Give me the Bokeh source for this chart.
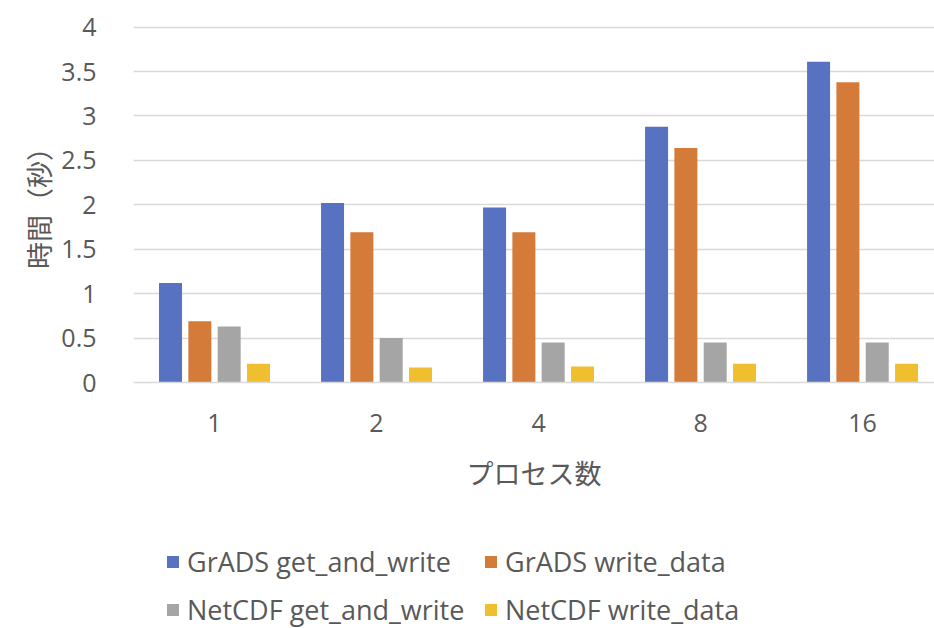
from bokeh.plotting import figure
from bokeh.layouts import column
from bokeh.models import Range1d, FixedTicker, Legend, LegendItem
from bokeh.embed import file_html
from bokeh.resources import INLINE

# ---- data ----
categories = ["1", "2", "4", "8", "16"]
grads_get_and_write = [1.12, 2.02, 1.97, 2.88, 3.61]
grads_write_data = [0.69, 1.69, 1.69, 2.64, 3.38]
netcdf_get_and_write = [0.63, 0.50, 0.45, 0.45, 0.45]
netcdf_write_data = [0.21, 0.17, 0.18, 0.21, 0.21]
series_names = ["GrADS get_and_write", "GrADS write_data",
                "NetCDF get_and_write", "NetCDF write_data"]
y_ticks = [0, 0.5, 1, 1.5, 2, 2.5, 3, 3.5, 4]
y_tick_labels = ["0", "0.5", "1", "1.5", "2", "2.5", "3", "3.5", "4"]
x_title = "プロセス数"
y_title = "時間（秒）"

# ---- styles ----
colors = ["#5672c0", "#d57b39", "#a5a5a5", "#f0bf30"]
TEXT = "#595959"
GRID = "#d9d9d9"
LATIN = "Open Sans"
CJK = "Noto Sans CJK JP"

series = [grads_get_and_write, grads_write_data, netcdf_get_and_write, netcdf_write_data]
centers = [i + 0.5 for i in range(len(categories))]
pitch = 0.181
bar_w = 0.142

p = figure(width=934, height=510, output_backend="svg", toolbar_location=None,
           x_range=Range1d(0, 4.944), y_range=Range1d(0, 4.075),
           min_border_left=133, min_border_right=0, min_border_top=20,
           min_border_bottom=128, outline_line_color=None)
p.background_fill_color = "white"

for k, (vals, col) in enumerate(zip(series, colors)):
    off = (k - 1.5) * pitch
    p.vbar(x=[c + off for c in centers], top=vals, bottom=0, width=bar_w,
           fill_color=col, line_color=None)

# axes
p.xaxis.ticker = FixedTicker(ticks=centers)
p.xaxis.major_label_overrides = {c: lab for c, lab in zip(centers, categories)}
p.xaxis.major_tick_line_color = None
p.xaxis.minor_tick_line_color = None
p.xaxis.axis_line_color = GRID
p.xaxis.axis_line_width = 1.5
p.xaxis.major_label_text_font = LATIN
p.xaxis.major_label_text_font_size = "25px"
p.xaxis.major_label_text_color = TEXT
p.xaxis.major_label_standoff = 25
p.xaxis.axis_label = x_title
p.xaxis.axis_label_text_font = CJK
p.xaxis.axis_label_text_font_size = "27px"
p.xaxis.axis_label_text_font_style = "normal"
p.xaxis.axis_label_text_color = TEXT
p.xaxis.axis_label_standoff = 18

p.yaxis.ticker = FixedTicker(ticks=y_ticks)
p.yaxis.major_label_overrides = {t: lab for t, lab in zip(y_ticks, y_tick_labels)}
p.yaxis.major_tick_line_color = None
p.yaxis.minor_tick_line_color = None
p.yaxis.axis_line_color = None
p.yaxis.major_label_text_font = LATIN
p.yaxis.major_label_text_font_size = "25px"
p.yaxis.major_label_text_color = TEXT
p.yaxis.major_label_standoff = 31
p.yaxis.axis_label = y_title
p.yaxis.axis_label_text_font = CJK
p.yaxis.axis_label_text_font_size = "27px"
p.yaxis.axis_label_text_font_style = "normal"
p.yaxis.axis_label_text_color = TEXT
p.yaxis.axis_label_standoff = 0

p.xgrid.grid_line_color = None
p.ygrid.grid_line_color = GRID
p.ygrid.grid_line_width = 1.5

# ---- legend strip below the chart (frames of the column are aligned) ----
lp = figure(width=934, height=118, output_backend="svg", toolbar_location=None,
            x_axis_location=None, y_axis_location=None, outline_line_color=None,
            min_border=0, x_range=Range1d(-3, -2), y_range=Range1d(-3, -2))
lp.grid.visible = False
# swatch renderers: same series, lying outside this strip's visible range
swatches = [lp.vbar(x=centers, top=vals, bottom=0, width=bar_w, fill_color=col, line_color=None)
            for vals, col in zip(series, colors)]

legend_cols = [32, 350]
legend_rows = [48, 0]

for i, name in enumerate(series_names):
    lg = Legend(items=[LegendItem(label=name, renderers=[swatches[i]])],
                location=(legend_cols[i % 2], legend_rows[i // 2]),
                orientation="horizontal",
                label_text_font=LATIN, label_text_font_size="27px",
                label_text_color=TEXT, glyph_width=15, glyph_height=15,
                label_standoff=7, spacing=0, padding=0, margin=0,
                border_line_color=None, background_fill_alpha=0)
    lp.add_layout(lg)

layout = column(p, lp, spacing=0)
open("out.html", "w").write(file_html(layout, INLINE))
